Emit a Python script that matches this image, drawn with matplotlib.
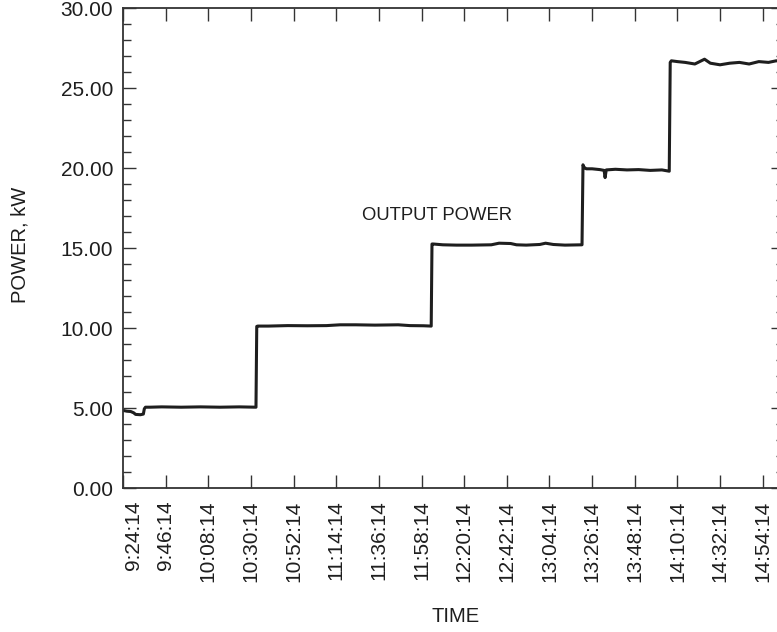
import matplotlib.pyplot as plt
import matplotlib.transforms as mtransforms
from matplotlib.ticker import MultipleLocator, FormatStrFormatter

plt.rcParams['font.family'] = ['Liberation Sans', 'DejaVu Sans']

# minutes after 9:24:14
t = [0, 2, 4, 5.5, 6.5, 9, 10.5, 11.0, 11.6, 14, 20, 30, 40, 50, 60, 68.6,
     69.0, 69.6, 75, 85, 95, 105, 112, 120, 130, 142, 148, 155, 159.0,
     159.4, 160.0, 165, 172, 180, 190, 194, 200, 203, 208, 215, 218, 222, 228, 236.8,
     237.3, 237.8, 239, 242, 246, 248.2, 248.7, 249.3, 254, 260, 266, 272, 278, 281.8,
     282.3, 282.9, 286, 290, 295, 300, 303, 308, 313, 318, 323, 328, 333, 337, 341]
p = [4.85, 4.80, 4.78, 4.70, 4.60, 4.58, 4.62, 4.95, 5.05, 5.05, 5.07, 5.05, 5.07, 5.05, 5.07, 5.05,
     10.10, 10.12, 10.12, 10.15, 10.14, 10.15, 10.20, 10.20, 10.18, 10.20, 10.15, 10.14, 10.12,
     15.25, 15.25, 15.20, 15.18, 15.18, 15.20, 15.30, 15.28, 15.20, 15.18, 15.22, 15.30, 15.22, 15.18, 15.20,
     20.20, 20.05, 19.95, 19.95, 19.90, 19.85, 19.40, 19.88, 19.92, 19.88, 19.90, 19.85, 19.88, 19.80,
     26.60, 26.70, 26.65, 26.60, 26.50, 26.80, 26.55, 26.45, 26.55, 26.60, 26.50, 26.65, 26.60, 26.70, 26.65]

tick_pos = [0, 22, 44, 66, 88, 110, 132, 154, 176, 198, 220, 242, 264, 286, 308, 330]
tick_labels = ['9:24:14', '9:46:14', '10:08:14', '10:30:14', '10:52:14', '11:14:14',
               '11:36:14', '11:58:14', '12:20:14', '12:42:14', '13:04:14', '13:26:14',
               '13:48:14', '14:10:14', '14:32:14', '14:54:14']

fig = plt.figure(figsize=(7.77, 6.32), dpi=100)
ax = fig.add_axes([123/777, 144/632, 661/777, 480/632])

ax.plot(t, p, color='#1e1e1e', lw=2.2)

ax.set_xlim(0, 341)
ax.set_ylim(0, 30)
ax.set_xticks(tick_pos)
ax.set_xticklabels(tick_labels, rotation=90)
ax.yaxis.set_major_locator(MultipleLocator(5))
ax.yaxis.set_minor_locator(MultipleLocator(1))
ax.yaxis.set_major_formatter(FormatStrFormatter('%.2f'))

ax.tick_params(which='both', direction='in', top=True, right=True, color='#333333', width=1.0,
               labelcolor='#1e1e1e')
ax.tick_params(axis='y', which='major', length=9.5, pad=7, labelsize=15)
ax.tick_params(axis='y', which='minor', length=5.8)
ax.tick_params(axis='x', which='major', length=9.5, pad=9, labelsize=15)
for s in ax.spines.values():
    s.set_color('#333333')
    s.set_linewidth(1.3)

# first time label sits a little right of the axis edge
first = ax.get_xticklabels()[0]
first.set_transform(first.get_transform() + mtransforms.ScaledTranslation(0.1, 0, fig.dpi_scale_trans))

ax.text(162, 17.06, 'OUTPUT POWER', fontsize=13.3, ha='center', va='center', color='#1e1e1e')
fig.text(456/777, 1 - 617/632, 'TIME', fontsize=14.5, ha='center', va='center', color='#1e1e1e')
fig.text(20/777, 1 - 245/632, 'POWER, kW', fontsize=14.5, ha='center', va='center',
         rotation=90, color='#1e1e1e')

fig.savefig('out.png', dpi=100)
